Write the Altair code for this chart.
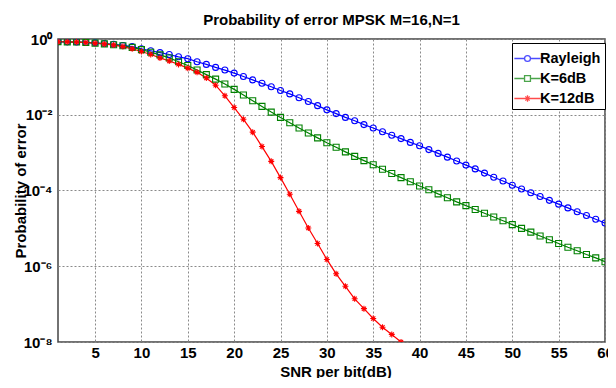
import altair as alt
import pandas as pd

# SNR per bit (dB)
snr = list(range(1, 61))

# log10 of probability of error
rayleigh_log = [-0.07, -0.075, -0.08, -0.09, -0.10, -0.12, -0.14, -0.17, -0.20, -0.26,
                -0.31, -0.36, -0.41, -0.47, -0.52, -0.60, -0.67, -0.75, -0.82, -0.90,
                -0.99, -1.08, -1.17, -1.26, -1.36, -1.45, -1.55, -1.65, -1.76, -1.87,
                -1.97, -2.07, -2.16, -2.26, -2.35, -2.45, -2.54, -2.63, -2.73, -2.82,
                -2.92, -3.02, -3.12, -3.22, -3.33, -3.43, -3.54, -3.65, -3.75, -3.86,
                -3.96, -4.06, -4.16, -4.26, -4.36, -4.46, -4.56, -4.66, -4.76, -4.86]
k6_log = [-0.07, -0.075, -0.08, -0.09, -0.11, -0.13, -0.15, -0.18, -0.22, -0.28,
          -0.35, -0.42, -0.50, -0.60, -0.70, -0.82, -0.94, -1.06, -1.19, -1.33,
          -1.48, -1.63, -1.78, -1.93, -2.07, -2.21, -2.35, -2.48, -2.61, -2.74,
          -2.86, -2.98, -3.10, -3.21, -3.32, -3.44, -3.55, -3.66, -3.77, -3.88,
          -3.98, -4.09, -4.19, -4.30, -4.40, -4.50, -4.60, -4.70, -4.80, -4.90,
          -5.00, -5.10, -5.20, -5.30, -5.40, -5.50, -5.59, -5.69, -5.78, -5.88]
k12_log = [-0.07, -0.075, -0.08, -0.09, -0.11, -0.13, -0.16, -0.20, -0.26, -0.33,
           -0.41, -0.50, -0.58, -0.67, -0.77, -0.88, -1.03, -1.22, -1.50, -1.81,
           -2.12, -2.46, -2.84, -3.23, -3.66, -4.10, -4.55, -4.99, -5.40, -5.82,
           -6.20, -6.53, -6.86, -7.12, -7.38, -7.61, -7.80, -8.00]

series_names = ["Rayleigh", "K=6dB", "K=12dB"]
series_colors = ["#0000ff", "#008000", "#ff0000"]
x_ticks = [5, 10, 15, 20, 25, 30, 35, 40, 45, 50, 55, 60]
y_ticks = [1, 1e-2, 1e-4, 1e-6, 1e-8]

rows = []
for name, vals in zip(series_names, [rayleigh_log, k6_log, k12_log]):
    for s, v in zip(snr, vals):
        rows.append({"snr": s, "pe": 10 ** v, "series": name})
df = pd.DataFrame(rows)
leg_df = pd.DataFrame({"series": series_names})

FONT = "Liberation Sans, Arial"
W, H = 547, 303

color_scale = alt.Scale(domain=series_names, range=series_colors)

x_enc = alt.X("snr:Q", scale=alt.Scale(domain=[1, 60], nice=False, zero=False),
              axis=alt.Axis(values=x_ticks, title="SNR per bit(dB)", format="d", labelFlush=False,
                            titleX=W / 2 + 4, titleY=29, titleBaseline="middle", titleAlign="center"))
y_enc = alt.Y("pe:Q", scale=alt.Scale(type="log", domain=[1e-8, 1], nice=False),
              axis=alt.Axis(values=y_ticks, title="Probability of error", labelFlush=False,
                            titleX=-38, titleY=H / 2, titleAngle=270, titleBaseline="middle",
                            titleAlign="center",
                            labelExpr="datum.value > 0.5 ? '10⁰' : datum.value > 0.005 ? '10⁻²' : datum.value > 0.00005 ? '10⁻⁴' : datum.value > 5e-7 ? '10⁻⁶' : '10⁻⁸'"))

lines = alt.Chart(df).mark_line(strokeWidth=1.2, clip=True).encode(
    x=x_enc, y=y_enc,
    color=alt.Color("series:N", scale=color_scale, legend=None),
)

star = "M-1,0L1,0M0,-1L0,1M-0.7,-0.7L0.7,0.7M-0.7,0.7L0.7,-0.7"
points = alt.Chart(df).mark_point(filled=False, strokeWidth=1.1, size=36, clip=True, opacity=1).encode(
    x=x_enc, y=y_enc,
    color=alt.Color("series:N", scale=color_scale, legend=None),
    shape=alt.Shape("series:N", scale=alt.Scale(domain=series_names, range=["circle", "square", star]), legend=None),
)

leg_paths = [
    "M-1.25,0L-0.28,0M0.28,0L1.25,0M0.28,0A0.28,0.28,0,1,1,-0.28,0A0.28,0.28,0,1,1,0.28,0",
    "M-1.25,0L-0.28,0M0.28,0L1.25,0M-0.28,-0.28L0.28,-0.28L0.28,0.28L-0.28,0.28Z",
    "M-1.25,0L1.25,0M0,-0.3L0,0.3M-0.2,-0.2L0.2,0.2M-0.2,0.2L0.2,-0.2",
]
legend = alt.Legend(orient="none", legendX=454, legendY=4, title=None,
                    strokeColor="#000000", fillColor="white", padding=4,
                    labelFont=FONT, labelFontSize=14.5, labelFontWeight="bold", labelColor="#000000",
                    symbolSize=441, symbolStrokeWidth=1.3, rowPadding=2, labelOffset=1)
legend_layer = alt.Chart(leg_df).mark_point(filled=False, clip=True).encode(
    x=alt.value(-200), y=alt.value(-200),
    color=alt.Color("series:N", scale=color_scale, legend=legend),
    shape=alt.Shape("series:N", scale=alt.Scale(domain=series_names, range=leg_paths), legend=legend),
)

chart = alt.layer(lines, points, legend_layer).resolve_scale(
    shape="independent"
).resolve_legend(
    color="independent", shape="independent"
).properties(
    width=W, height=H,
    title=alt.Title("Probability of error MPSK M=16,N=1", font=FONT, fontSize=15,
                    fontWeight="bold", color="#000000", anchor="middle", frame="group", offset=4),
    autosize=alt.AutoSizeParams(type="none"),
    padding={"left": 50, "top": 31, "right": 3, "bottom": 36},
).configure_view(
    stroke="#444444", strokeWidth=1.5
).configure_axis(
    grid=True, gridColor="#8a8a8a", gridDash=[2, 2], gridWidth=1,
    domain=False, ticks=False,
    labelFont=FONT, labelFontSize=15, labelFontWeight="bold", labelColor="#000000",
    titleFont=FONT, titleFontSize=15, titleFontWeight="bold", titleColor="#000000",
).configure_axisX(
    labelPadding=3
).configure_axisY(
    labelPadding=6
)

chart.save("out.html", embed_options={"renderer": "svg", "actions": False})
